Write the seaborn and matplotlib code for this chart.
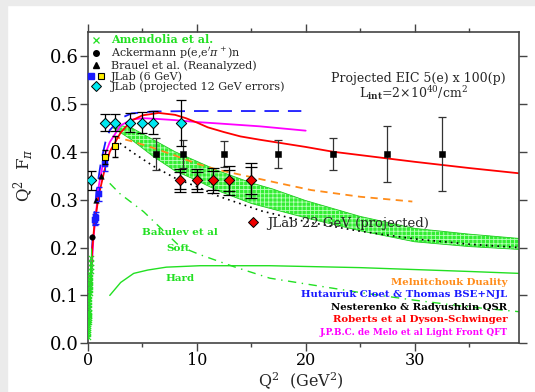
import numpy as np
import pandas as pd
import seaborn as sns
import matplotlib.pyplot as plt
from matplotlib.lines import Line2D
from matplotlib.legend_handler import HandlerTuple
from matplotlib.patches import Rectangle
from matplotlib.ticker import MultipleLocator

# ---- measured points (Q^2 in GeV^2, Q^2 F_pi) ----
amen_q2 = [0.015, 0.020, 0.025, 0.030, 0.035, 0.040, 0.045, 0.050, 0.055, 0.060,
           0.065, 0.070, 0.075, 0.080, 0.090, 0.100, 0.110, 0.120, 0.130, 0.140,
           0.150, 0.160, 0.170, 0.180, 0.190, 0.200, 0.215, 0.230, 0.245, 0.26, 0.28]
amen_f = [0.014, 0.019, 0.023, 0.028, 0.032, 0.036, 0.040, 0.044, 0.048, 0.052,
          0.056, 0.059, 0.063, 0.066, 0.073, 0.080, 0.087, 0.093, 0.099, 0.105,
          0.111, 0.117, 0.122, 0.127, 0.133, 0.138, 0.145, 0.152, 0.159, 0.168, 0.178]
amen_err = [0.005, 0.005, 0.006, 0.006, 0.007, 0.007, 0.008, 0.008, 0.009, 0.009,
            0.010, 0.010, 0.011, 0.011, 0.012, 0.012, 0.013, 0.013, 0.014, 0.014,
            0.015, 0.015, 0.016, 0.016, 0.017, 0.017, 0.018, 0.019, 0.020, 0.021, 0.022]

ack_q2 = [0.35]
ack_f = [0.221]

brauel_q2 = [0.70, 1.18]
brauel_f = [0.300, 0.350]

jlab6_blue_q2 = [0.60, 0.75, 1.00, 1.60]
jlab6_blue_f = [0.258, 0.262, 0.312, 0.375]
jlab6_blue_err = [0.012, 0.012, 0.014, 0.016]

jlab6_yel_q2 = [1.60, 2.45]
jlab6_yel_f = [0.389, 0.411]
jlab6_yel_err = [0.014, 0.022]

jlab12_q2 = [0.30, 1.60, 2.45, 3.85, 5.00, 6.00, 8.50]
jlab12_f = [0.340, 0.461, 0.461, 0.461, 0.461, 0.461, 0.461]
jlab12_err = [0.020, 0.018, 0.018, 0.020, 0.022, 0.025, 0.048]

jlab22_q2 = [8.45, 10.0, 11.5, 13.0, 15.0]
jlab22_f = [0.340, 0.340, 0.340, 0.340, 0.340]
jlab22_stat = [0.017, 0.017, 0.019, 0.021, 0.028]
jlab22_tot = [0.024, 0.024, 0.027, 0.030, 0.036]

eic_q2 = [6.25, 8.70, 12.5, 17.5, 22.5, 27.5, 32.5]
eic_f = [0.395, 0.395, 0.395, 0.395, 0.395, 0.395, 0.395]
eic_err = [0.034, 0.030, 0.027, 0.030, 0.034, 0.058, 0.078]

# ---- model curves ----
dse_q2 = [0.2, 0.4, 0.6, 1.0, 1.5, 2.0, 3.0, 4.0, 5.0, 6.5, 8.0, 9.0, 10.0, 11.0,
          12.5, 14.0, 15.8, 20.0, 22.5, 25.0, 30.0, 35.0, 39.6]
dse_f = [0.12, 0.20, 0.25, 0.31, 0.36, 0.40, 0.44, 0.465, 0.476, 0.481, 0.477, 0.470,
         0.461, 0.451, 0.441, 0.432, 0.425, 0.410, 0.400, 0.393, 0.379, 0.366, 0.355]

lf_q2 = [0.2, 0.5, 1.0, 1.5, 2.0, 3.0, 4.0, 5.0, 6.0, 8.0, 10.0, 12.0, 15.8, 20.0]
lf_f = [0.10, 0.22, 0.33, 0.39, 0.42, 0.455, 0.467, 0.470, 0.469, 0.466, 0.462, 0.459,
        0.453, 0.444]

bse_q2 = [0.1, 0.3, 0.5, 0.8, 1.2, 1.6, 2.0, 3.0, 4.0, 6.0, 10.0, 15.0, 19.6]
bse_f = [0.05, 0.17, 0.25, 0.32, 0.38, 0.42, 0.445, 0.47, 0.48, 0.484, 0.485, 0.485, 0.485]

dual_q2 = [2.3, 4.0, 6.0, 8.0, 10.0, 12.0, 15.0, 17.0, 20.5, 25.0, 29.8]
dual_f = [0.432, 0.422, 0.408, 0.392, 0.375, 0.362, 0.347, 0.337, 0.320, 0.306, 0.296]

qsr_q2 = [2.5, 4.0, 6.0, 8.0, 10.0, 12.0, 16.0, 20.0, 25.0, 30.0, 35.0, 39.6]
qsr_f = [0.425, 0.400, 0.370, 0.345, 0.327, 0.307, 0.276, 0.254, 0.234, 0.218, 0.207, 0.200]

band_q2 = [2.3, 4.0, 6.0, 8.0, 10.0, 12.0, 15.0, 17.0, 20.0, 25.0, 30.0, 35.0, 39.6]
band_hi = [0.458, 0.450, 0.425, 0.400, 0.380, 0.360, 0.335, 0.322, 0.298, 0.265, 0.240, 0.228, 0.219]
band_lo = [0.450, 0.425, 0.390, 0.360, 0.340, 0.318, 0.292, 0.280, 0.262, 0.235, 0.212, 0.202, 0.196]

soft_q2 = [2.0, 2.9, 5.1, 8.45, 10.3, 13.4, 16.7, 20.0, 25.0, 30.0, 35.0, 39.6]
soft_f = [0.334, 0.313, 0.275, 0.202, 0.185, 0.160, 0.136, 0.124, 0.106, 0.090, 0.076, 0.066]

hard_q2 = [2.0, 3.0, 4.2, 5.5, 7.2, 10.3, 16.7, 25.0, 30.0, 35.0, 39.6]
hard_f = [0.100, 0.127, 0.146, 0.153, 0.159, 0.162, 0.162, 0.158, 0.154, 0.150, 0.146]

GREEN = "#22e022"
ORANGE = "#ff8c1a"
BLUE = "#1a1aff"
RED = "#ff0000"
MAGENTA = "#ff00ff"
CYAN = "#00e8f0"

sns.set_theme(style="ticks")
plt.rcParams["font.family"] = ["DejaVu Serif"]
plt.rcParams["mathtext.fontset"] = "dejavuserif"
plt.rcParams["hatch.linewidth"] = 0.6

fig = plt.figure(figsize=(5.35, 3.92), dpi=100)
fig.patch.set_facecolor("white")
fig.patches.append(Rectangle((0, 0), 7 / 535, 1, transform=fig.transFigure,
                             color="#ebebeb", zorder=-5))
fig.patches.append(Rectangle((0, 1 - 5 / 392), 1, 5 / 392, transform=fig.transFigure,
                             color="#ebebeb", zorder=-5))
ax = fig.add_axes([88 / 535, 1 - 343.3 / 392, 431 / 535, 311.3 / 392])

# band
ax.fill_between(band_q2, band_lo, band_hi, facecolor="#33ee33", edgecolor="#b8ffb8",
                hatch="++++", linewidth=0, zorder=1)
ax.plot(band_q2, band_hi, color="#22cc22", lw=0.6, zorder=1)
ax.plot(band_q2, band_lo, color="#22cc22", lw=0.6, zorder=1)

# curves
sns.lineplot(x=soft_q2, y=soft_f, ax=ax, color=GREEN, lw=1.0,
             linestyle=(0, (6, 4, 1, 4)), zorder=2)
sns.lineplot(x=hard_q2, y=hard_f, ax=ax, color=GREEN, lw=1.0, zorder=2)
sns.lineplot(x=qsr_q2, y=qsr_f, ax=ax, color="black", lw=1.2,
             linestyle=(0, (1, 2.5)), zorder=2)
sns.lineplot(x=dual_q2, y=dual_f, ax=ax, color=ORANGE, lw=1.3,
             linestyle=(0, (4, 3)), zorder=2)
sns.lineplot(x=bse_q2, y=bse_f, ax=ax, color=BLUE, lw=1.3,
             linestyle=(0, (8, 5)), zorder=2)
sns.lineplot(x=lf_q2, y=lf_f, ax=ax, color=MAGENTA, lw=1.3, zorder=2)
sns.lineplot(x=dse_q2, y=dse_f, ax=ax, color=RED, lw=1.3, zorder=2)

# data with error bars
ax.errorbar(amen_q2, amen_f, yerr=amen_err, fmt="none", ecolor=GREEN, elinewidth=0.8, zorder=3)
sns.scatterplot(x=amen_q2, y=amen_f, ax=ax, marker="x", s=14, color=GREEN,
                linewidth=0.8, zorder=3)
sns.scatterplot(x=brauel_q2, y=brauel_f, ax=ax, marker="^", s=16, color="black",
                edgecolor="black", zorder=3)
ax.errorbar(jlab6_blue_q2, jlab6_blue_f, yerr=jlab6_blue_err, fmt="none", ecolor=BLUE,
            elinewidth=0.8, capsize=2, zorder=3)
sns.scatterplot(x=jlab6_blue_q2, y=jlab6_blue_f, ax=ax, marker="s", s=20, color=BLUE,
                edgecolor=BLUE, zorder=3)
sns.scatterplot(x=ack_q2, y=ack_f, ax=ax, marker="o", s=16, color="black",
                edgecolor="black", zorder=4)
ax.errorbar(jlab6_yel_q2, jlab6_yel_f, yerr=jlab6_yel_err, fmt="none", ecolor="black",
            elinewidth=0.9, capsize=2.5, zorder=4)
sns.scatterplot(x=jlab6_yel_q2, y=jlab6_yel_f, ax=ax, marker="s", s=20, color="#ffee00",
                edgecolor="black", linewidth=0.8, zorder=4)
ax.errorbar(eic_q2, eic_f, yerr=eic_err, fmt="none", ecolor="#333333",
            elinewidth=0.9, capsize=3, capthick=0.9, zorder=4)
sns.scatterplot(x=eic_q2, y=eic_f, ax=ax, marker="s", s=24, color="black",
                edgecolor="black", zorder=4)
ax.errorbar(jlab22_q2, jlab22_f, yerr=jlab22_tot, fmt="none", ecolor="black",
            elinewidth=0.9, capsize=4, capthick=0.9, zorder=5)
ax.errorbar(jlab22_q2, jlab22_f, yerr=jlab22_stat, fmt="none", ecolor="black",
            elinewidth=0.9, capsize=4, capthick=0.9, zorder=5)
sns.scatterplot(x=jlab22_q2, y=jlab22_f, ax=ax, marker="D", s=28, color="#ee0000",
                edgecolor="black", linewidth=0.7, zorder=5)
ax.errorbar(jlab12_q2, jlab12_f, yerr=jlab12_err, fmt="none", ecolor="black",
            elinewidth=0.9, capsize=3.6, capthick=0.9, zorder=6)
sns.scatterplot(x=jlab12_q2, y=jlab12_f, ax=ax, marker="D", s=28, color=CYAN,
                edgecolor="black", linewidth=0.7, zorder=6)

# axes
ax.set_xlim(0, 39.6)
ax.set_ylim(0, 0.65)
ax.xaxis.set_major_locator(MultipleLocator(10))
ax.xaxis.set_minor_locator(MultipleLocator(5))
ax.yaxis.set_major_locator(MultipleLocator(0.1))
ax.yaxis.set_major_formatter(plt.FormatStrFormatter("%.1f"))
ax.tick_params(which="both", direction="out", top=True, right=True, colors="#444444",
               labelcolor="black", labelsize=13, width=1.0)
ax.tick_params(which="major", length=6, pad=1)
ax.tick_params(axis="x", which="major", pad=0, labelsize=11.5)
ax.tick_params(which="minor", length=3)
for s in ax.spines.values():
    s.set_color("#444444")
    s.set_linewidth(1.2)

ax.set_xlabel("Q$^2$  (GeV$^2$)", fontsize=11.5)
ax.xaxis.label.set_va("bottom")
ax.xaxis.set_label_coords(0.494, -0.155)
ax.set_ylabel("Q$^2$  F$_\\pi$", fontsize=12)
ax.yaxis.set_label_coords(-0.12, 0.54)

# upper-left legend
h_amen = Line2D([], [], marker="x", color=GREEN, ls="none", ms=5, mew=0.9)
h_ack = Line2D([], [], marker="o", color="black", ls="none", ms=4)
h_brauel = Line2D([], [], marker="^", color="black", ls="none", ms=4.5)
h_blue = Line2D([], [], marker="s", color=BLUE, ls="none", ms=4.5)
h_yel = Line2D([], [], marker="s", mfc="#ffee00", mec="black", ls="none", ms=4.5, mew=0.8)
h_cyan = Line2D([], [], marker="D", mfc=CYAN, mec="black", ls="none", ms=5.5, mew=0.7)
leg1 = ax.legend([h_amen, h_ack, h_brauel, (h_blue, h_yel), h_cyan],
                 ["Amendolia et al.", "Ackermann p(e,e$'\\pi^+$)n",
                  "Brauel et al. (Reanalyzed)", "JLab (6 GeV)",
                  "JLab (projected 12 GeV errors)"],
                 loc="upper left", bbox_to_anchor=(0.0, 0.992), frameon=False,
                 fontsize=8, handlelength=1.5, handletextpad=0.55, labelspacing=0.0,
                 borderpad=0.0, borderaxespad=0,
                 handler_map={tuple: HandlerTuple(ndivide=None, pad=0.3)})
leg1.get_texts()[0].set_color(GREEN)
leg1.get_texts()[0].set_fontweight("bold")
ax.add_artist(leg1)

# JLab 22 GeV label
h_red = Line2D([], [], marker="D", mfc="#ee0000", mec="black", ls="none", ms=5.5, mew=0.7)
leg2 = ax.legend([h_red], ["JLab 22 GeV (projected)"], loc="center left",
                 bbox_to_anchor=(14.63, 0.25), bbox_transform=ax.transData,
                 frameon=False, fontsize=9.5, handlelength=0.8, handletextpad=0.7,
                 borderpad=0, borderaxespad=0)

# annotations
ax.text(0.766, 0.85, "Projected EIC 5(e) x 100(p)", transform=ax.transAxes,
        ha="center", va="center", fontsize=9)
ax.text(0.754, 0.805, "L$_{\\mathbf{int}}$=2×10$^{40}$/cm$^2$", transform=ax.transAxes,
        ha="center", va="center", fontsize=9)

ax.text(8.44, 0.232, "Bakulev et al", color=GREEN, fontsize=7.5, fontweight="bold",
        ha="center", va="center")
ax.text(8.3, 0.197, "Soft", color=GREEN, fontsize=7.5, fontweight="bold",
        ha="center", va="center")
ax.text(8.44, 0.136, "Hard", color=GREEN, fontsize=7.5, fontweight="bold",
        ha="center", va="center")

model_labels = ["Melnitchouk Duality", "Hutauruk Cloet & Thomas BSE+NJL",
                "Nesterenko & Radyushkin QSR", "Roberts et al Dyson-Schwinger",
                "J.P.B.C. de Melo et al Light Front QFT"]
model_colors = [ORANGE, BLUE, "black", RED, MAGENTA]
model_sizes = [7.3, 7.3, 7.3, 7.3, 6.4]
for i, (lab, col, fs) in enumerate(zip(model_labels, model_colors, model_sizes)):
    ax.text(0.973, 0.196 - i * 0.04, lab, color=col, transform=ax.transAxes,
            ha="right", va="center", fontsize=fs, fontweight="bold")

fig.savefig("out.png", dpi=100)
